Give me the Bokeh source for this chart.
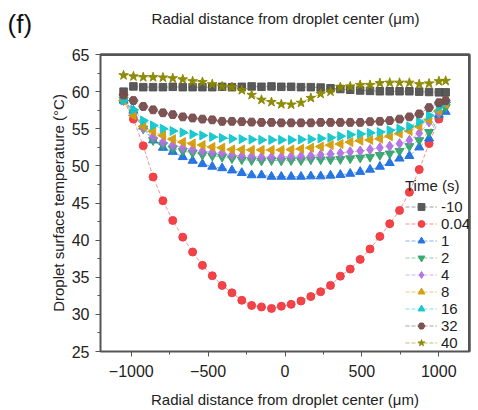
import math
from bokeh.plotting import figure
from bokeh.models import (Legend, LegendItem, Label, SingleIntervalTicker, CustomJSTickFormatter,
                          LinearAxis, Span)
from bokeh.embed import file_html
from bokeh.resources import INLINE

X_RANGE = (-1200, 1200)
Y_RANGE = (25, 65)

# radial positions (um)
X_UM = [-1050, -986, -922, -858, -794, -730, -665, -601, -537, -473, -409, -345,
        -281, -217, -153, -88, -24, 40, 104, 168, 232, 296, 360, 424, 489, 553,
        617, 681, 745, 809, 873, 937, 1001, 1045]

T_M10 = [60.0, 60.7, 60.6, 60.6, 60.6, 60.65, 60.6, 60.6, 60.6, 60.6, 60.65, 60.6,
         60.65, 60.7, 60.65, 60.7, 60.65, 60.65, 60.6, 60.6, 60.55, 60.45, 60.35, 60.25,
         60.15, 60.1, 60.05, 60.05, 60.05, 60.05, 60.0, 59.95, 59.9, 59.9]
T_004 = [58.8, 56.3, 52.7, 48.5, 45.3, 42.65, 40.4, 38.4, 36.6, 35.2, 33.9, 32.9,
         31.9, 31.2, 31.0, 30.8, 31.1, 31.35, 31.8, 32.4, 33.05, 33.9, 35.15, 36.1,
         37.4, 38.8, 40.5, 42.2, 44.0, 46.45, 49.5, 53.0, 56.3, 58.3]
T_1 = [58.8, 57.45, 55.3, 53.45, 52.45, 51.9, 51.2, 50.7, 50.25, 49.9, 49.7, 49.4,
       49.05, 48.75, 48.75, 48.55, 48.55, 48.55, 48.55, 48.6, 48.6, 48.7, 48.8, 48.95,
       49.2, 49.5, 49.9, 50.4, 51.0, 51.35, 52.5, 53.7, 56.9, 57.3]
T_2 = [58.9, 57.2, 55.0, 53.45, 52.8, 52.35, 52.0, 51.75, 51.5, 51.35, 51.2, 51.0,
       50.85, 50.75, 50.7, 50.75, 50.7, 50.75, 50.75, 50.85, 50.85, 50.85, 50.9, 51.0,
       51.1, 51.2, 51.45, 51.65, 52.0, 52.65, 53.45, 54.55, 57.0, 57.9]
T_4 = [58.8, 57.0, 55.1, 53.9, 53.2, 52.8, 52.45, 52.2, 52.0, 51.85, 51.75, 51.5,
       51.35, 51.3, 51.2, 51.2, 51.2, 51.3, 51.3, 51.35, 51.5, 51.6, 51.7, 51.9,
       52.0, 52.2, 52.45, 52.65, 53.0, 53.45, 54.4, 55.9, 57.2, 58.45]
T_8 = [58.8, 56.8, 55.3, 54.65, 54.1, 53.6, 53.2, 53.0, 52.8, 52.55, 52.45, 52.2,
       52.2, 52.15, 52.15, 52.15, 52.15, 52.2, 52.3, 52.45, 52.6, 52.8, 52.95, 53.2,
       53.4, 53.5, 53.65, 54.0, 54.35, 54.7, 55.3, 56.2, 57.45, 58.35]
T_16 = [58.8, 57.55, 56.1, 55.45, 55.0, 54.7, 54.5, 54.25, 54.1, 53.9, 53.75, 53.65,
        53.6, 53.55, 53.5, 53.5, 53.5, 53.5, 53.55, 53.6, 53.7, 53.8, 54.0, 54.2,
        54.3, 54.45, 54.55, 54.8, 55.0, 55.3, 55.95, 56.8, 57.9, 58.55]
T_32 = [59.55, 58.8, 58.0, 57.55, 57.15, 56.9, 56.6, 56.45, 56.3, 56.2, 56.0, 56.0,
        55.95, 55.9, 55.85, 55.85, 55.8, 55.8, 55.8, 55.8, 55.85, 55.85, 55.85, 55.85,
        55.85, 55.95, 56.0, 56.1, 56.3, 56.6, 57.0, 57.85, 58.5, 58.8]
T_40 = [62.2, 62.05, 61.95, 61.95, 61.9, 61.8, 61.65, 61.4, 61.3, 61.0, 60.7, 60.6,
        60.2, 59.55, 58.9, 58.6, 58.3, 58.25, 58.5, 59.15, 59.7, 60.0, 60.6, 60.7,
        60.9, 60.9, 61.15, 61.2, 61.2, 61.2, 61.0, 61.1, 61.4, 61.45]

SERIES_LABELS = ["-10", "0.04", "1", "2", "4", "8", "16", "32", "40"]
SERIES_VALUES = [T_M10, T_004, T_1, T_2, T_4, T_8, T_16, T_32, T_40]
COLORS = ["#515151", "#f03a3f", "#1f6fe0", "#34a56c", "#b071e0", "#d39c0a", "#12c6cc", "#774b4b", "#8a8700"]
MARKERS = ["square", "circle", "triangle", "inverted_triangle", "diamond", "triangle", "triangle", "hex", "star"]
ANGLES = [0, 0, 0, 0, 0, math.pi / 2, -math.pi / 2, 0, 0]
SIZES = [7.5, 8, 9, 9, 10, 9, 9, 9, 10]

FONT = "Liberation Sans"
AX = "#555555"

p = figure(width=478, height=410, x_range=X_RANGE, y_range=Y_RANGE,
           output_backend="svg", toolbar_location=None,
           min_border_left=100, min_border_right=9, min_border_top=54, min_border_bottom=59)
p.xgrid.visible = False
p.ygrid.visible = False
p.outline_line_color = AX
p.outline_line_width = 2
p.outline_line_alpha = 1.0
p.background_fill_color = "white"

p.xaxis.ticker = SingleIntervalTicker(interval=500, num_minor_ticks=2)
p.yaxis.ticker = SingleIntervalTicker(interval=5, num_minor_ticks=2)
p.xaxis.formatter = CustomJSTickFormatter(code="return tick < 0 ? '\u2212' + Math.abs(tick) : '' + tick;")
for ax in (p.xaxis[0], p.yaxis[0]):
    ax.axis_line_color = AX
    ax.major_tick_line_color = AX
    ax.minor_tick_line_color = AX
    ax.major_tick_in = 0
    ax.major_tick_out = 5
    ax.minor_tick_in = 0
    ax.minor_tick_out = 3
    ax.major_label_text_font = FONT
    ax.major_label_text_font_size = "16px"
    ax.major_label_text_color = "#222222"
    ax.axis_label_text_font = FONT
    ax.axis_label_text_font_size = "15px"
    ax.axis_label_text_font_style = "normal"
    ax.axis_label_text_color = "#222222"

p.xaxis.major_label_standoff = 8
p.yaxis.major_label_standoff = 6
p.xaxis.axis_label = "Radial distance from droplet center (\u03bcm)"
p.xaxis.axis_label_standoff = 11
p.yaxis.axis_label = "Droplet surface temperature (\u00b0C)"
p.yaxis.axis_label_standoff = 2

# top and right frame lines: axes without tick marks or tick labels
def frame_axis(interval):
    return LinearAxis(ticker=SingleIntervalTicker(interval=interval, num_minor_ticks=0),
                      formatter=CustomJSTickFormatter(code="return '';"),
                      axis_line_color=AX, axis_line_width=2,
                      major_tick_in=0, major_tick_out=0, minor_tick_in=0, minor_tick_out=0,
                      major_label_standoff=0)

p.add_layout(frame_axis(500), "above")
p.add_layout(frame_axis(5), "right")

# extra frame edges drawn as spans at the range limits (inner half stays visible)
p.add_layout(Span(location=Y_RANGE[1], dimension="width", line_color=AX, line_width=3))
p.add_layout(Span(location=X_RANGE[1], dimension="height", line_color=AX, line_width=3))

items = []
for lab, vals, col, mk, ang, sz in zip(SERIES_LABELS, SERIES_VALUES, COLORS, MARKERS, ANGLES, SIZES):
    ln = p.line(X_UM, vals, line_color=col, line_alpha=0.55, line_width=1, line_dash="4 2")
    sc = p.scatter(X_UM, vals, marker=mk, angle=ang, size=sz, fill_color=col, line_color=col,
                   fill_alpha=0.95, line_alpha=0.95)
    items.append(LegendItem(label=lab, renderers=[ln, sc]))

legend = Legend(items=items, location=(305, 0), title="Time (s)",
                title_text_font=FONT, title_text_font_size="15px", title_text_font_style="normal",
                title_text_color="#222222", title_standoff=4,
                label_text_font=FONT, label_text_font_size="15px", label_text_color="#222222",
                glyph_width=32, glyph_height=17, label_height=17, label_standoff=4, spacing=0,
                padding=2, margin=0, border_line_color=None, background_fill_alpha=0)
p.add_layout(legend)

# texts above the frame (placed in the top panel, screen px from each panel's bottom-left)
p.add_layout(Label(x=185, y=36, x_units="screen", y_units="screen",
                   text="Radial distance from droplet center (\u03bcm)", text_font=FONT,
                   text_font_size="15px", text_color="#222222", text_align="center",
                   text_baseline="middle"), "above")
p.add_layout(Label(x=-93, y=-1, x_units="screen", y_units="screen", text="(f)", text_font=FONT,
                   text_font_size="26px", text_color="#111111", text_align="left",
                   text_baseline="bottom"), "above")

open("out.html", "w").write(file_html(p, INLINE))
